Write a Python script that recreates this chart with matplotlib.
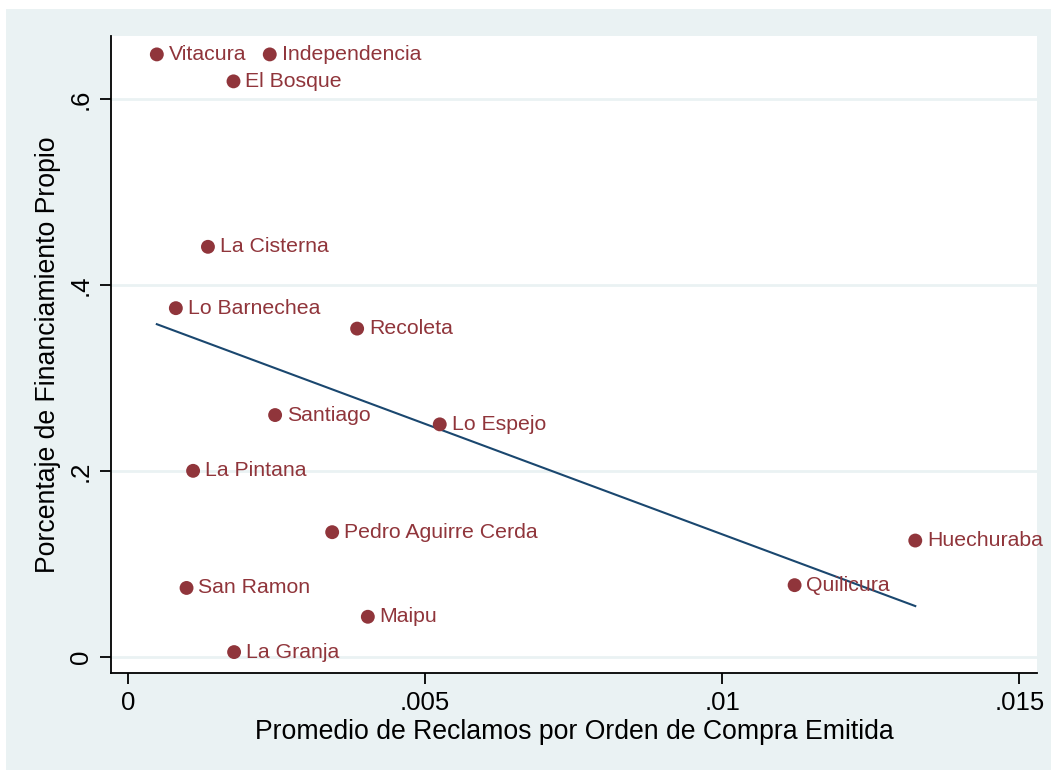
import numpy as np
import matplotlib
matplotlib.use("Agg")
import matplotlib.pyplot as plt
from matplotlib.patches import Rectangle

plt.rcParams['font.family'] = ['Liberation Sans', 'DejaVu Sans']

# Comunas: average complaints per purchase order vs share of own financing
comunas = ["Vitacura", "Independencia", "El Bosque", "La Cisterna", "Lo Barnechea",
           "Recoleta", "Santiago", "Lo Espejo", "La Pintana", "Pedro Aguirre Cerda",
           "Huechuraba", "Quilicura", "San Ramon", "Maipu", "La Granja"]
reclamos = [0.00049, 0.00239, 0.00178, 0.00135, 0.00081,
            0.00386, 0.00248, 0.00525, 0.00110, 0.00344,
            0.01325, 0.01122, 0.00099, 0.00404, 0.00179]
financiamiento = [0.648, 0.648, 0.619, 0.441, 0.375,
                  0.353, 0.260, 0.250, 0.200, 0.134,
                  0.125, 0.077, 0.074, 0.043, 0.005]

x_ticks = [0, 0.005, 0.01, 0.015]
x_ticklabels = ["0", ".005", ".01", ".015"]
y_ticks = [0, 0.2, 0.4, 0.6]
y_ticklabels = ["0", ".2", ".4", ".6"]

bg = "#EAF2F3"
maroon = "#90353B"
navy = "#1A476F"

fig = plt.figure(figsize=(10.51, 7.70), dpi=100)
fig.patch.set_facecolor("white")
fig.patches.append(Rectangle((6 / 1051, 0), 1, 1 - 9 / 770, transform=fig.transFigure,
                             facecolor=bg, edgecolor="none", zorder=-10))

ax = fig.add_axes([111 / 1051, 1 - 673 / 770, (1037 - 111) / 1051, (673 - 36) / 770])
ax.set_zorder(1)
ax.set_facecolor("white")

xr = np.array(reclamos)
yf = np.array(financiamiento)

# linear fit
slope, intercept = np.polyfit(xr, yf, 1)
xs = np.array([xr.min(), xr.max()])
ax.plot(xs, intercept + slope * xs, color=navy, lw=1.5, zorder=3)

ax.scatter(xr, yf, s=100, color=maroon, edgecolor="none", zorder=4)
for name, xv, yv in zip(comunas, reclamos, financiamiento):
    ax.annotate(name, (xv, yv), xytext=(8.5, 0), textcoords="offset points",
                va="center", ha="left", fontsize=15.3, color=maroon, zorder=5)

ax.set_xlim(-0.000281, 0.015298)
ax.set_ylim(-0.0175, 0.6678)

ax.set_xticks(x_ticks)
ax.set_xticklabels(x_ticklabels, fontsize=18.5)
ax.set_yticks(y_ticks)
ax.set_yticklabels(y_ticklabels, fontsize=18.5, rotation=90, va="center")

ax.yaxis.grid(True, color=bg, lw=2, zorder=0)
ax.set_axisbelow(True)

for s in ["top", "right"]:
    ax.spines[s].set_visible(False)
for s in ["left", "bottom"]:
    ax.spines[s].set_linewidth(1.3)
    ax.spines[s].set_color("black")
ax.tick_params(axis="both", length=8, width=1.3, color="black", pad=5)

ax.set_xlabel("Promedio de Reclamos por Orden de Compra Emitida", fontsize=19.2, labelpad=3)
ax.set_ylabel("Porcentaje de Financiamiento Propio", fontsize=19.2, labelpad=6)

fig.savefig("out.png", dpi=100)
